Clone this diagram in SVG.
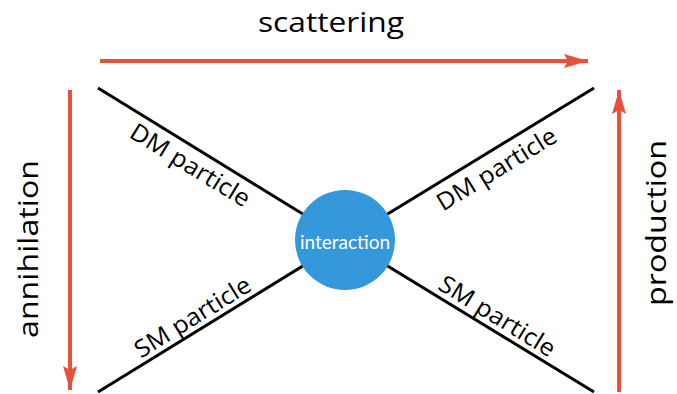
<svg xmlns="http://www.w3.org/2000/svg" width="677" height="394" viewBox="0 0 677 394">
  <style>
    .leg { stroke: #000; stroke-width: 3; fill: none; }
    .flow { stroke: #E8503E; stroke-width: 4; fill: none; }
    .big { font-family: "Open Sans", "Liberation Sans", sans-serif; font-size: 28px; fill: #000; }
    .lbl { font-family: "Open Sans", "Liberation Sans", sans-serif; font-size: 24px; fill: #000; }
    .core { font-family: Lato, "Open Sans", sans-serif; font-size: 19px; fill: #fff; }
  </style>
  <defs>
    <marker id="head" viewBox="0 0 24 14" refX="24" refY="7" markerUnits="userSpaceOnUse" markerWidth="24" markerHeight="14" orient="auto">
      <path d="M0,0 L24,7 L0,14 L4,7 Z" fill="#E8503E"/>
    </marker>
  </defs>

  <!-- process arrows and particle legs -->
  <g id="connectors">
    <line class="flow" x1="100" y1="61" x2="588" y2="61" marker-end="url(#head)"/>
    <line class="flow" x1="70" y1="90" x2="70" y2="390" marker-end="url(#head)"/>
    <line class="flow" x1="619" y1="392" x2="619" y2="90" marker-end="url(#head)"/>
    <line class="leg" x1="98" y1="88" x2="345" y2="240"/>
    <line class="leg" x1="594" y1="88" x2="345" y2="240"/>
    <line class="leg" x1="98" y1="392" x2="345" y2="240"/>
    <line class="leg" x1="594" y1="392" x2="345" y2="240"/>
  </g>

  <g id="interaction">
    <circle cx="345" cy="240" r="50" fill="#3498DB"/>
    <text class="core" x="345" y="241" text-anchor="middle" dominant-baseline="central">interaction</text>
  </g>

  <g id="scattering">
    <text class="big" x="331" y="32" text-anchor="middle" textLength="146" lengthAdjust="spacingAndGlyphs">scattering</text>
  </g>
  <g id="annihilation">
    <text class="big" transform="translate(27,249) rotate(-90)" text-anchor="middle" dominant-baseline="central" textLength="178" lengthAdjust="spacingAndGlyphs">annihilation</text>
  </g>
  <g id="production">
    <text class="big" transform="translate(655,223) rotate(-90)" text-anchor="middle" dominant-baseline="central" textLength="166" lengthAdjust="spacingAndGlyphs">production</text>
  </g>

  <g id="dm-in">
    <text class="lbl" transform="translate(191,164) rotate(31.6)" text-anchor="middle" dominant-baseline="central" textLength="136" lengthAdjust="spacingAndGlyphs">DM particle</text>
  </g>
  <g id="dm-out">
    <text class="lbl" transform="translate(496,168) rotate(-31.6)" text-anchor="middle" dominant-baseline="central" textLength="136" lengthAdjust="spacingAndGlyphs">DM particle</text>
  </g>
  <g id="sm-in">
    <text class="lbl" transform="translate(192,316) rotate(-31.6)" text-anchor="middle" dominant-baseline="central" textLength="132" lengthAdjust="spacingAndGlyphs">SM particle</text>
  </g>
  <g id="sm-out">
    <text class="lbl" transform="translate(498,315) rotate(31.6)" text-anchor="middle" dominant-baseline="central" textLength="132" lengthAdjust="spacingAndGlyphs">SM particle</text>
  </g>
</svg>
